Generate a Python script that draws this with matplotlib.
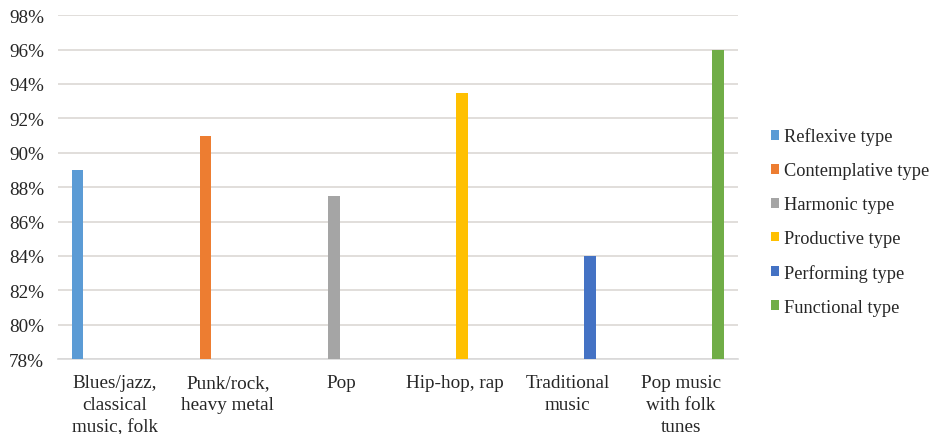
import matplotlib.pyplot as plt
import numpy as np

plt.rcParams['font.family'] = ['Liberation Serif', 'DejaVu Serif']

categories = ['Blues/jazz,\nclassical\nmusic, folk', 'Punk/rock,\nheavy metal', 'Pop',
              'Hip-hop, rap', 'Traditional\nmusic', 'Pop music\nwith folk\ntunes']
series = ['Reflexive type', 'Contemplative type', 'Harmonic type',
          'Productive type', 'Performing type', 'Functional type']
values = [89, 91, 87.5, 93.5, 84, 96]
colors = ['#5b9bd5', '#ed7d31', '#a5a5a5', '#ffc000', '#4472c4', '#70ad47']

fig = plt.figure(figsize=(9.35, 4.35), dpi=100)
ax = fig.add_axes([0.062, 0.172, 0.727, 0.791])

pos = np.arange(len(categories))
step = 0.131
width = 0.103
# each series has a value only in its own category (clustered layout)
for i, (name, val, col) in enumerate(zip(series, values, colors)):
    ax.bar(pos[i] + (i - 2.5) * step, val, width=width, color=col, label=name,
           zorder=3)

fs = 13.8
ax.set_ylim(78, 98)
ax.set_xlim(-0.5, len(categories) - 0.5)
ax.set_yticks(np.arange(78, 99, 2))
ax.set_yticklabels([f'{t}%' for t in range(78, 99, 2)], fontsize=fs, color='#262626')
ax.set_xticks(pos)
ax.set_xticklabels(categories, fontsize=fs, color='#262626', linespacing=1.36)
ax.tick_params(axis='x', length=0, pad=11)
ax.tick_params(axis='y', length=0, pad=10)
ax.yaxis.grid(True, color='#dcd8d4', linewidth=1.2, zorder=0)

for s in ['top', 'right', 'left']:
    ax.spines[s].set_visible(False)
ax.spines['bottom'].set_color('#d9d9d9')
ax.spines['bottom'].set_linewidth(1.2)

ax.legend(loc='center left', bbox_to_anchor=(1.024, 0.40), frameon=False,
          fontsize=13.2, handlelength=0.45, handleheight=0.45, handletextpad=0.3,
          labelspacing=0.92, labelcolor='#262626')

fig.savefig('out.png', dpi=100)
